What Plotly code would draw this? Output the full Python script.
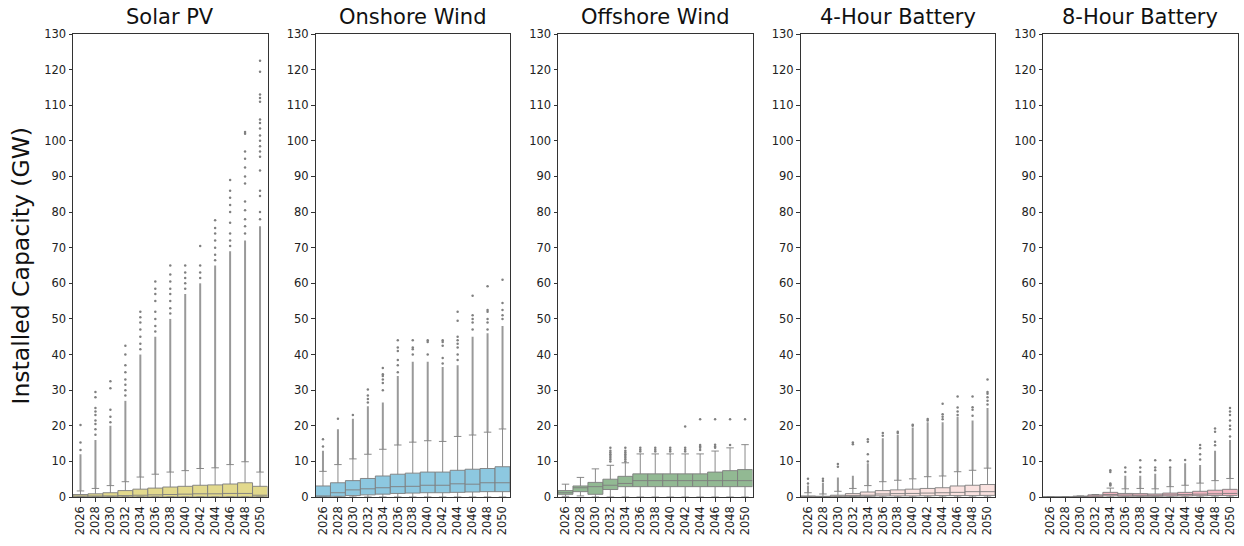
import plotly.graph_objects as go
from plotly.subplots import make_subplots

years = [str(y) for y in range(2026, 2051, 2)]
panel_titles = ["Solar PV", "Onshore Wind", "Offshore Wind", "4-Hour Battery", "8-Hour Battery"]
y_ticks = list(range(0, 131, 10))

# ---------- Solar PV ----------
solar_q1 = [0, 0, 0, 0, 0, 0, 0, 0, 0, 0, 0, 0, 0]
solar_med = [0.1, 0.2, 0.3, 0.4, 0.5, 0.6, 0.7, 0.8, 0.9, 0.9, 1.0, 1.0, 0.5]
solar_q3 = [0.7, 0.9, 1.2, 1.8, 2.2, 2.5, 2.8, 3.0, 3.3, 3.4, 3.65, 4.0, 3.0]
solar_lo = [0, 0, 0, 0, 0, 0, 0, 0, 0, 0, 0, 0, 0]
solar_hi = [1.7, 2.4, 3.2, 4.3, 5.6, 6.4, 7.0, 7.4, 8.0, 8.2, 9.1, 9.9, 7.0]
solar_dense_top = [12, 16, 20, 27, 40, 45, 50, 57, 60, 65, 69, 72, 76]
solar_out = [
    [13.2, 15.3, 20.2],
    [17.5, 19, 20.5, 21.5, 23, 24, 25, 28, 29.5],
    [21, 22.5, 24.5, 30.5, 32.5],
    [28.5, 30, 31.5, 33, 35, 37, 40, 42.5],
    [41.5, 43, 45, 47, 49, 50.5, 52],
    [46.5, 48, 50, 52, 55, 57, 58.5, 60.5],
    [51.5, 53, 55, 57, 58.5, 60.5, 62.5, 65],
    [58.5, 60, 61.5, 63, 65],
    [61.5, 63, 65, 70.5],
    [66.5, 68, 70, 72, 74, 75.5, 77.7],
    [70.5, 72, 74, 77, 80, 82, 84, 86, 89],
    [74, 76, 78, 80.5, 83, 88, 90, 92.5, 95, 97, 102, 102.5],
    [78, 80, 84.5, 86, 91.7, 95.5, 97, 98.5, 100, 101.5, 103.5, 105, 106, 111, 112, 113, 119.4, 122.5],
]

# ---------- Onshore Wind ----------
onw_q1 = [0, 0.2, 0.4, 0.6, 0.8, 1.0, 1.1, 1.2, 1.2, 1.3, 1.4, 1.5, 1.5]
onw_med = [0.3, 1.2, 2.0, 2.3, 2.6, 2.9, 3.0, 3.3, 3.3, 3.7, 3.6, 4.0, 4.0]
onw_q3 = [3.1, 4.0, 4.6, 5.2, 5.9, 6.4, 6.7, 7.0, 7.0, 7.5, 7.8, 8.0, 8.5]
onw_lo = [0, 0, 0, 0, 0, 0, 0, 0, 0, 0, 0, 0, 0]
onw_hi = [7.2, 9.1, 10.7, 12.0, 13.4, 14.6, 15.4, 15.8, 15.6, 17.0, 17.4, 18.2, 19.1]
onw_dense_top = [13, 19, 22, 25.5, 26.5, 34, 38, 38, 36.5, 37, 45, 46, 48]
onw_out = [
    [14.2, 16.2],
    [22],
    [23],
    [26.5, 27.5, 28.5, 30.2],
    [30, 32, 33, 34, 34.5, 36.2],
    [35, 37, 38.5, 41, 42, 44],
    [40, 41.5, 42, 44],
    [40, 43.5, 44],
    [37.5, 39, 42.5, 43.5, 44],
    [38.5, 40, 42, 43, 44, 45, 49.5, 52],
    [47, 49, 50, 51, 56.5],
    [47, 49, 50, 52, 52.5, 59.2],
    [50, 51, 52.5, 54.5, 61],
]

# ---------- Offshore Wind ----------
ofw_q1 = [0.75, 1.5, 0.75, 2.1, 2.9, 2.9, 2.9, 2.9, 2.9, 2.9, 2.9, 2.9, 2.9]
ofw_med = [1.2, 2.6, 2.9, 3.3, 3.8, 4.6, 4.6, 4.6, 4.6, 4.6, 4.6, 4.6, 4.6]
ofw_q3 = [1.8, 3.1, 4.1, 5.0, 5.8, 6.5, 6.5, 6.5, 6.5, 6.5, 7.0, 7.4, 7.7]
ofw_lo = [0.2, 0.3, 0, 0, 0, 0, 0, 0, 0, 0, 0, 0, 0]
ofw_hi = [3.6, 5.5, 7.9, 8.9, 9.6, 12.1, 12.1, 12.1, 12.1, 12.1, 12.9, 13.8, 14.7]
ofw_dense_top = [None] * 13
ofw_out = [
    [],
    [],
    [],
    [10, 10.5, 11, 11.5, 12, 12.5, 13, 13.8],
    [10, 10.5, 11, 11.5, 12, 12.5, 13, 13.8],
    [12.8, 13.3, 13.8],
    [12.8, 13.3, 13.8],
    [12.8, 13.3, 13.8],
    [12.8, 13.3, 13.8, 19.8],
    [13.2, 13.8, 14.2, 14.6, 21.8],
    [13.8, 14.2, 14.7, 21.8],
    [14.6, 21.8],
    [21.8],
]

# ---------- 4-Hour Battery ----------
b4_q1 = [0, 0, 0, 0.1, 0.2, 0.3, 0.3, 0.3, 0.35, 0.4, 0.4, 0.4, 0.45]
b4_med = [0.05, 0.05, 0.2, 0.4, 0.5, 0.85, 0.95, 1.0, 1.1, 1.2, 1.3, 1.5, 1.5]
b4_q3 = [0.3, 0.2, 0.5, 0.95, 1.4, 1.8, 2.0, 2.2, 2.4, 2.6, 3.1, 3.3, 3.5]
b4_lo = [0, 0, 0, 0, 0, 0, 0, 0, 0, 0, 0, 0, 0]
b4_hi = [1.2, 0.85, 1.6, 2.4, 3.2, 4.3, 4.7, 5.1, 5.7, 5.9, 7.1, 7.5, 8.1]
b4_dense_top = [3.2, 4, 5.5, 6, 9.5, 16.5, 17.5, 19.5, 21, 21, 22.5, 21.5, 25]
b4_out = [
    [3.8, 5.1],
    [4.5, 5.1],
    [8.5, 9.3],
    [14.8, 15.3],
    [10, 12, 15.5, 16.2],
    [17.2, 18],
    [18, 18.3],
    [20, 20.3],
    [21.5, 21.9],
    [21.8, 22.5, 23.2, 26.2],
    [23, 24, 25.1, 28.2],
    [22.8, 24.5, 25.2, 28.2],
    [26, 27, 28, 29, 29.5, 33],
]

# ---------- 8-Hour Battery ----------
b8_q1 = [0, 0, 0, 0, 0.3, 0.2, 0.2, 0.2, 0.25, 0.3, 0.35, 0.4, 0.4]
b8_med = [0, 0, 0.1, 0.2, 0.7, 0.55, 0.5, 0.5, 0.6, 0.7, 0.8, 0.9, 1.0]
b8_q3 = [0, 0, 0.25, 0.6, 1.3, 1.0, 0.95, 0.85, 1.1, 1.3, 1.6, 1.9, 2.15]
b8_lo = [0, 0, 0, 0, 0, 0, 0, 0, 0, 0, 0, 0, 0]
b8_hi = [0, 0, 0.3, 0.7, 2.5, 2.3, 2.4, 2.3, 2.9, 3.3, 3.9, 4.6, 5.2]
b8_dense_top = [None, None, None, None, None, 6, 6, 6.5, 8, 9.5, 9, 13, 16]
b8_out = [
    [],
    [],
    [],
    [],
    [3.2, 3.5, 3.8, 7.0, 7.5],
    [7, 8.3],
    [7, 8.3, 10.3],
    [7.5, 8.3, 10.3],
    [8.3, 10.3],
    [10.4],
    [10.5, 12, 13.7, 14.6],
    [14.5, 15.5, 18.3, 19.2],
    [17, 19, 20, 21.5, 23, 24, 25],
]

fill_colors = ["#E2D98D", "#8DC8E0", "#92B993", "#FAE2E0", "#F3B7C3"]

panels = [
    (solar_q1, solar_med, solar_q3, solar_lo, solar_hi, solar_dense_top, solar_out),
    (onw_q1, onw_med, onw_q3, onw_lo, onw_hi, onw_dense_top, onw_out),
    (ofw_q1, ofw_med, ofw_q3, ofw_lo, ofw_hi, ofw_dense_top, ofw_out),
    (b4_q1, b4_med, b4_q3, b4_lo, b4_hi, b4_dense_top, b4_out),
    (b8_q1, b8_med, b8_q3, b8_lo, b8_hi, b8_dense_top, b8_out),
]

W, H = 1244, 546
lefts_px = [73, 315.5, 558, 800.5, 1043]
width_px = 194.5

fig = make_subplots(rows=1, cols=5)

for i, (q1, med, q3, lo, hi, dtop, outs) in enumerate(panels):
    col = i + 1
    # dense outlier columns
    dx, dy = [], []
    for yr, h, t in zip(years, hi, dtop):
        if t is not None:
            dx += [yr, yr, None]
            dy += [h, t, None]
    if dx:
        fig.add_trace(go.Scatter(x=dx, y=dy, mode="lines",
                                 line=dict(color="rgba(128,128,128,0.8)", width=2),
                                 hoverinfo="skip", showlegend=False), row=1, col=col)
    # sparse outliers
    ox, oy = [], []
    for yr, vals in zip(years, outs):
        for v in vals:
            ox.append(yr)
            oy.append(v)
    if ox:
        fig.add_trace(go.Scatter(x=ox, y=oy, mode="markers",
                                 marker=dict(color="#808080", size=2.5),
                                 hoverinfo="skip", showlegend=False), row=1, col=col)
    fig.add_trace(go.Box(x=years, q1=q1, median=med, q3=q3,
                         lowerfence=lo, upperfence=hi,
                         fillcolor=fill_colors[i],
                         line=dict(color="rgba(125,125,125,0.9)", width=1),
                         whiskerwidth=0.5, boxpoints=False,
                         showlegend=False), row=1, col=col)

    xa = "xaxis" if i == 0 else f"xaxis{col}"
    ya = "yaxis" if i == 0 else f"yaxis{col}"
    x0 = lefts_px[i] / W
    x1 = (lefts_px[i] + width_px) / W
    fig.layout[xa].update(
        domain=[x0, x1], type="category", categoryorder="array", categoryarray=years,
        range=[-0.5, len(years) - 0.5],
        tickmode="array", tickvals=years, ticktext=years, tickangle=-90,
        showline=True, mirror=True, linecolor="#333333", linewidth=1,
        ticks="outside", ticklen=3.5, tickcolor="#333333",
        showgrid=False, zeroline=False,
        tickfont=dict(family="DejaVu Sans", size=11.5, color="#222222"),
    )
    fig.layout[ya].update(
        range=[0, 130], tickmode="array", tickvals=y_ticks,
        showline=True, mirror=True, linecolor="#333333", linewidth=1,
        ticks="outside", ticklen=3.5, tickcolor="#333333",
        showgrid=False, zeroline=False,
        tickfont=dict(family="DejaVu Sans", size=11.5, color="#222222"),
    )
    fig.add_annotation(text=panel_titles[i], xref="paper", yref="paper",
                       x=(x0 + x1) / 2, y=1, yanchor="bottom", xanchor="center",
                       yshift=3, showarrow=False,
                       font=dict(family="DejaVu Sans", size=21, color="#111111"))

fig.add_annotation(text="Installed Capacity (GW)", xref="paper", yref="paper",
                   x=20 / W, y=0.5, xanchor="center", yanchor="middle",
                   textangle=-90, showarrow=False,
                   font=dict(family="DejaVu Sans", size=23.5, color="#111111"))

fig.update_layout(
    width=W, height=H,
    margin=dict(l=0, r=0, t=34, b=49),
    paper_bgcolor="white", plot_bgcolor="white",
    boxgap=0, boxgroupgap=0, boxmode="overlay",
    showlegend=False,
)

fig.write_html("out.html")
